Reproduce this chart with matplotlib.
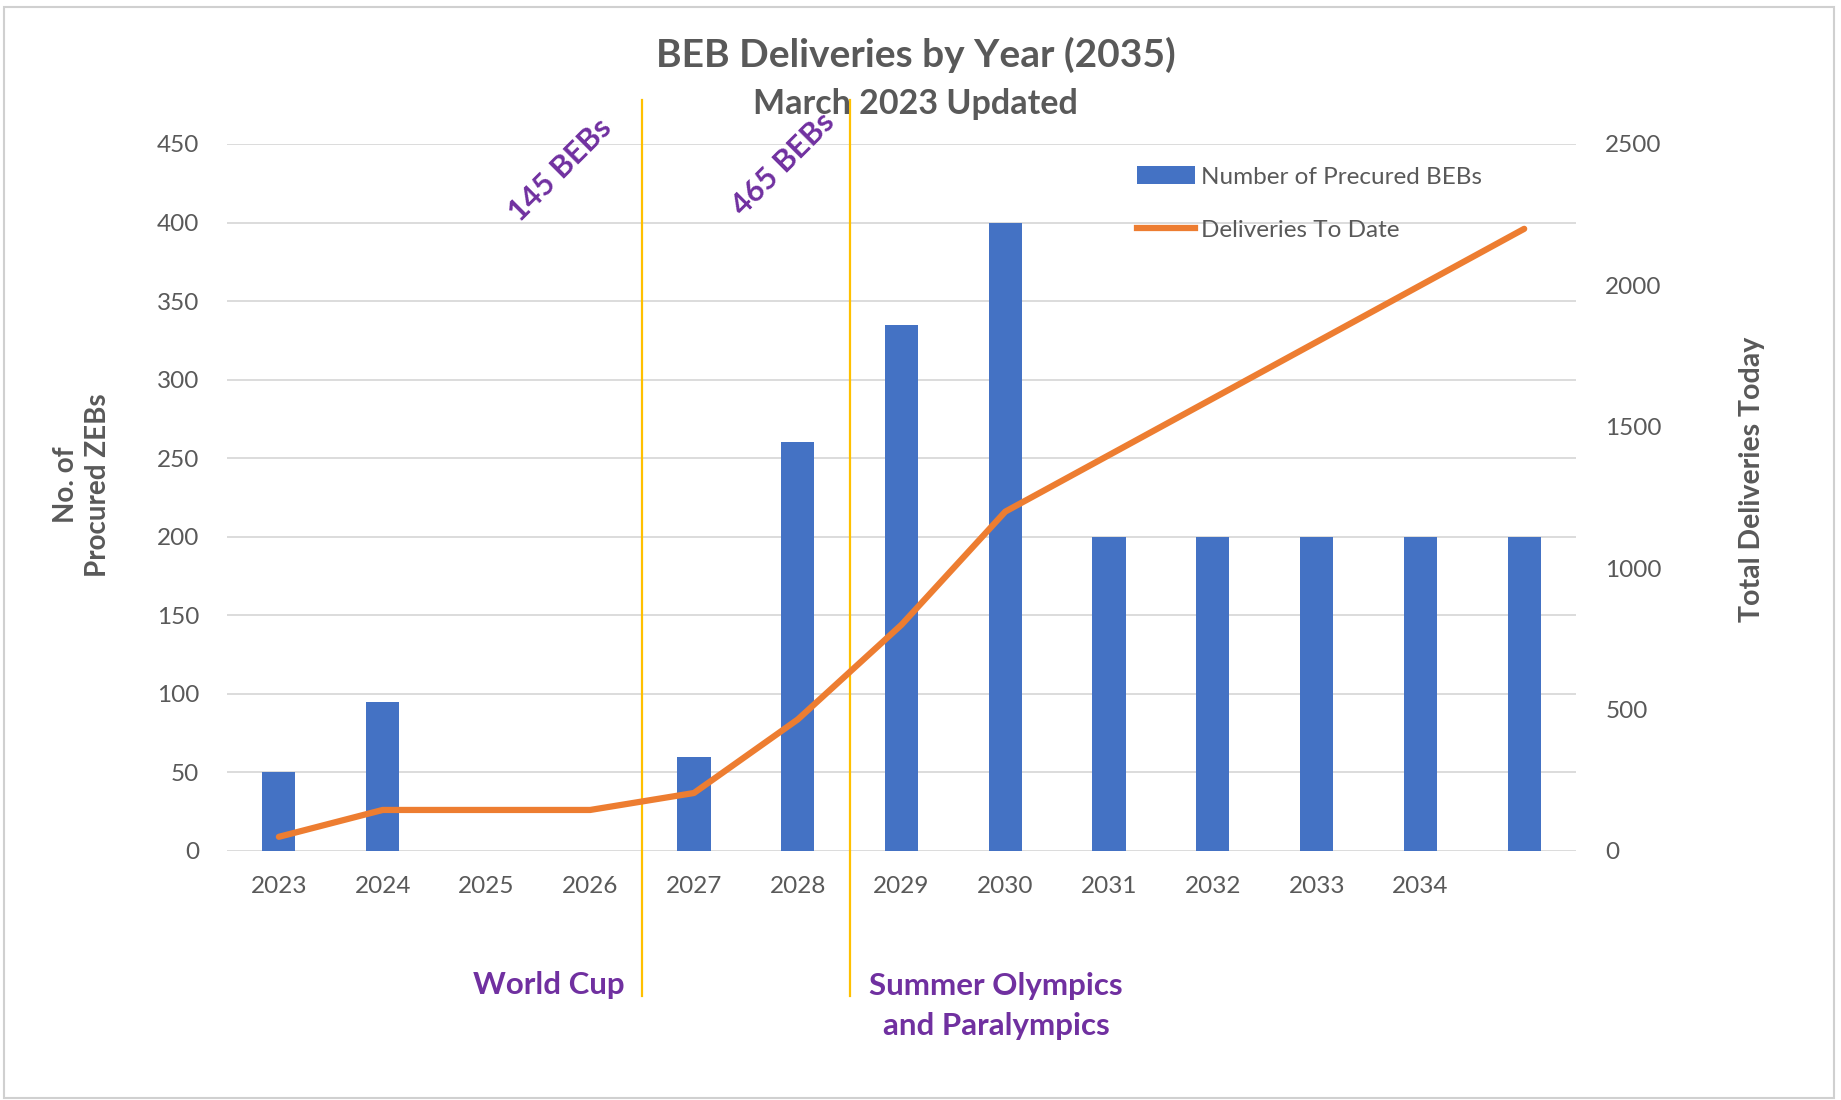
import matplotlib

matplotlib.use("Agg")
import matplotlib.pyplot as plt
from matplotlib.patches import Patch, Rectangle
from matplotlib.lines import Line2D

plt.rcParams["font.family"] = ["Lato", "DejaVu Sans"]

# data
years = [2023, 2024, 2025, 2026, 2027, 2028, 2029, 2030, 2031, 2032, 2033, 2034, 2035]
year_labels = ["2023", "2024", "2025", "2026", "2027", "2028", "2029", "2030",
               "2031", "2032", "2033", "2034", ""]
procured = [50, 95, 0, 0, 60, 260, 335, 400, 200, 200, 200, 200, 200]
deliveries_to_date = [50, 145, 145, 145, 205, 465, 800, 1200, 1400, 1600, 1800, 2000, 2200]
event_positions = [3.5, 5.5]  # between category slots
event_labels = ["World Cup", "Summer Olympics\nand Paralympics"]
milestone_labels = ["145 BEBs", "465 BEBs"]

BLUE = "#4472C4"
ORANGE = "#ED7D31"
GOLD = "#FFC000"
PURPLE = "#7030A0"
GRAY = "#595959"
GRID = "#D9D9D9"

fig = plt.figure(figsize=(18.41, 11.0), dpi=100)
ax = fig.add_axes([0.1233, 0.2264, 0.7328, 0.6427])
ax2 = ax.twinx()

xs = list(range(len(years)))
ax.bar(xs, procured, width=0.32, color=BLUE, zorder=2, label="Number of Precured BEBs")
ax2.plot(xs, deliveries_to_date, color=ORANGE, lw=4.5, solid_capstyle="round",
         solid_joinstyle="round", zorder=3, label="Deliveries To Date")

ax.set_xlim(-0.5, len(years) - 0.5)
ax.set_ylim(0, 450)
ax.set_yticks(range(0, 451, 50))
ax2.set_ylim(0, 2500)
ax2.set_yticks(range(0, 2501, 500))

ax.set_xticks(xs)
ax.set_xticklabels(year_labels)
ax.grid(axis="y", color=GRID, lw=1.3, zorder=0)
ax.set_axisbelow(True)
for a in (ax, ax2):
    for s in a.spines.values():
        s.set_visible(False)
ax.tick_params(axis="both", length=0, labelsize=17.5, labelcolor=GRAY)
ax.tick_params(axis="y", pad=20)
ax.tick_params(axis="x", pad=18)
ax2.tick_params(axis="y", length=0, labelsize=17.5, labelcolor=GRAY, pad=21)

ax.set_ylabel("No. of\nProcured ZEBs", fontsize=20, fontweight="bold", color=GRAY,
              linespacing=1.3)
ax.yaxis.set_label_coords(-0.086, 0.518)
ax2.set_ylabel("Total Deliveries Today", fontsize=20.5, fontweight="bold", color=GRAY)
ax2.yaxis.set_label_coords(1.121, 0.526)

# event markers
for xp in event_positions:
    ax.axvline(xp, ymin=-0.205, ymax=1.062, color=GOLD, lw=1.6, clip_on=False, zorder=4)
ax.text(0.295, -0.19, event_labels[0], transform=ax.transAxes, ha="right", va="center",
        fontsize=22.5, fontweight="bold", color=PURPLE)
ax.text(0.570, -0.219, event_labels[1], transform=ax.transAxes, ha="center", va="center",
        fontsize=22.5, fontweight="bold", color=PURPLE, linespacing=1.5)

ax.text(0.247, 0.963, milestone_labels[0], transform=ax.transAxes, ha="center", va="center",
        rotation=45, fontsize=22, fontweight="bold", color=PURPLE, rotation_mode="anchor")
ax.text(0.412, 0.972, milestone_labels[1], transform=ax.transAxes, ha="center", va="center",
        rotation=45, fontsize=22, fontweight="bold", color=PURPLE, rotation_mode="anchor")

fig.text(0.4975, 0.95, "BEB Deliveries by Year (2035)", ha="center", va="center",
         fontsize=28, fontweight="bold", color=GRAY)
fig.text(0.4975, 0.905, "March 2023 Updated", ha="center", va="center",
         fontsize=24.5, fontweight="bold", color=GRAY)

handles = [Patch(facecolor=BLUE, edgecolor="none"),
           Line2D([0], [0], color=ORANGE, lw=4.5)]
leg = ax.legend(handles, ["Number of Precured BEBs", "Deliveries To Date"],
                loc="upper left", bbox_to_anchor=(0.658, 1.0), frameon=False,
                fontsize=17.5, labelcolor=GRAY, handlelength=2.4, handleheight=0.8,
                handletextpad=0.25, labelspacing=1.3)

# chart border
fig.patches.append(Rectangle((0.002, 0.002), 0.994, 0.992, transform=fig.transFigure,
                             fill=False, edgecolor="#D0D0D0", lw=1.5))

fig.savefig("out.png", dpi=100)
